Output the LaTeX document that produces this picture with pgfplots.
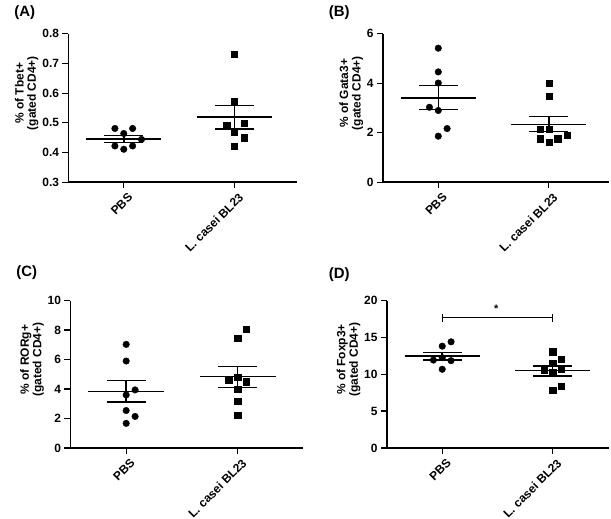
\documentclass[border=0pt]{standalone}
\usepackage{pgfplots}
\pgfplotsset{compat=1.18}
\usepackage{fontspec}
\setmainfont{Liberation Sans}
\begin{document}
\pgfplotsset{
  panel/.style={
    anchor=south west, scale only axis, xmin=-0.5,
    axis x line*=bottom, axis y line*=left,
    axis line style={-, line width=1.5pt},
    tick style={line width=1.3pt, black},
    tick align=outside, major tick length=6pt,
    xtick={0,1}, xticklabels={PBS, L. casei BL23},
    xticklabel style={rotate=45, anchor=north east, font=\bfseries\fontsize{12}{14}\selectfont, xshift=3pt, yshift=-2pt},
    yticklabel style={font=\bfseries\fontsize{12}{14}\selectfont},
    /pgf/number format/assume math mode=true,
    ylabel style={align=center, font=\bfseries\fontsize{12}{12.5}\selectfont, at={(ticklabel cs:0.6)}, yshift=-3pt},
    clip=false,
  },
  circ/.style={only marks, mark=*, mark size=3.3pt, black},
  sq/.style={only marks, mark=square*, mark size=3.1pt, black},
  ml/.style={no marks, line width=1.5pt, black},
}
\begin{tikzpicture}[x=1pt,y=1pt]
\useasboundingbox (0,0) rectangle (611,521);
\node[font=\bfseries\fontsize{15}{15}\selectfont] at (22,508) {(A)};
\node[font=\bfseries\fontsize{15}{15}\selectfont] at (338,508) {(B)};
\node[font=\bfseries\fontsize{15}{15}\selectfont] at (24,247) {(C)};
\node[font=\bfseries\fontsize{15}{15}\selectfont] at (338,245) {(D)};
% Panel A
\begin{axis}[panel, at={(66pt,338pt)}, width=230pt, height=149pt, xmax=1.57,
  ymin=0.3, ymax=0.8, ytick={0.3,0.4,0.5,0.6,0.7,0.8},
  yticklabel style={/pgf/number format/fixed, /pgf/number format/precision=1, /pgf/number format/fixed zerofill},
  ylabel={\% of Tbet+\\(gated CD4+)}]
\addplot[circ] coordinates {(-0.08,0.481) (0.08,0.481) (0,0.464) (0.16,0.444) (-0.08,0.422) (0.08,0.422) (0,0.411)};
\addplot[sq] coordinates {(1,0.73) (1,0.571) (0.93,0.493) (1.09,0.500) (1,0.469) (1.09,0.450) (1,0.420)};
\addplot[ml] coordinates {(-0.34,0.445) (0.34,0.445)};
\addplot[ml] coordinates {(-0.175,0.457) (0.175,0.457)};
\addplot[ml] coordinates {(-0.175,0.433) (0.175,0.433)};
\addplot[ml] coordinates {(0,0.433) (0,0.457)};
\addplot[ml] coordinates {(0.66,0.519) (1.34,0.519)};
\addplot[ml] coordinates {(0.825,0.559) (1.175,0.559)};
\addplot[ml] coordinates {(0.825,0.480) (1.175,0.480)};
\addplot[ml] coordinates {(1,0.480) (1,0.559)};
\end{axis}
% Panel B
\begin{axis}[panel, at={(382pt,338pt)}, width=227pt, height=149pt, xmax=1.545,
  ymin=0, ymax=6, ytick={0,2,4,6},
  ylabel={\% of Gata3+\\(gated CD4+)}]
\addplot[circ] coordinates {(0,5.42) (0,4.46) (0,4.01) (-0.08,3.03) (0,2.90) (0.08,2.17) (0,1.86)};
\addplot[sq] coordinates {(1,4.01) (1,3.48) (0.92,2.13) (1,2.13) (1.17,1.91) (0.92,1.76) (1.08,1.76) (1,1.62)};
\addplot[ml] coordinates {(-0.34,3.41) (0.34,3.41)};
\addplot[ml] coordinates {(-0.175,3.91) (0.175,3.91)};
\addplot[ml] coordinates {(-0.175,2.94) (0.175,2.94)};
\addplot[ml] coordinates {(0,2.94) (0,3.91)};
\addplot[ml] coordinates {(0.66,2.34) (1.34,2.34)};
\addplot[ml] coordinates {(0.825,2.65) (1.175,2.65)};
\addplot[ml] coordinates {(0.825,2.04) (1.175,2.04)};
\addplot[ml] coordinates {(1,2.04) (1,2.65)};
\end{axis}
% Panel C
\begin{axis}[panel, at={(68pt,71pt)}, width=234pt, height=148pt, xmax=1.59,
  ymin=0, ymax=10, ytick={0,2,4,6,8,10},
  ylabel={\% of RORg+\\(gated CD4+)}]
\addplot[circ] coordinates {(0,7.03) (0,5.90) (0.08,3.94) (0,3.60) (0,2.54) (0.08,2.14) (0,1.67)};
\addplot[sq] coordinates {(1.08,8.04) (1,7.43) (0.92,4.62) (1,4.80) (1.08,4.50) (1,4.01) (1,3.15) (1,2.20)};
\addplot[ml] coordinates {(-0.34,3.83) (0.34,3.83)};
\addplot[ml] coordinates {(-0.175,4.59) (0.175,4.59)};
\addplot[ml] coordinates {(-0.175,3.11) (0.175,3.11)};
\addplot[ml] coordinates {(0,3.11) (0,4.59)};
\addplot[ml] coordinates {(0.66,4.84) (1.34,4.84)};
\addplot[ml] coordinates {(0.825,5.52) (1.175,5.52)};
\addplot[ml] coordinates {(0.825,4.12) (1.175,4.12)};
\addplot[ml] coordinates {(1,4.12) (1,5.52)};
\end{axis}
% Panel D
\begin{axis}[panel, at={(386pt,71pt)}, width=223pt, height=148pt, xmax=1.51,
  ymin=0, ymax=20, ytick={0,5,10,15,20},
  ylabel={\% of Foxp3+\\(gated CD4+)}]
\addplot[circ] coordinates {(0.08,14.41) (0,13.82) (-0.08,11.93) (0,12.25) (0.08,11.85) (0,10.68)};
\addplot[sq] coordinates {(1,13.06) (1.08,12.03) (1,11.49) (1.08,10.68) (0.92,10.50) (1,10.27) (1.08,8.34) (1,7.88)};
\addplot[ml] coordinates {(-0.34,12.48) (0.34,12.48)};
\addplot[ml] coordinates {(-0.175,12.93) (0.175,12.93)};
\addplot[ml] coordinates {(-0.175,11.93) (0.175,11.93)};
\addplot[ml] coordinates {(0,11.93) (0,12.93)};
\addplot[ml] coordinates {(0.66,10.50) (1.34,10.50)};
\addplot[ml] coordinates {(0.825,11.12) (1.175,11.12)};
\addplot[ml] coordinates {(0.825,9.77) (1.175,9.77)};
\addplot[ml] coordinates {(1,9.77) (1,11.12)};
\addplot[no marks, line width=0.8pt, black] coordinates {(0,17.66) (1,17.66)};
\addplot[no marks, line width=0.8pt, black] coordinates {(0,17.15) (0,18.15)};
\addplot[no marks, line width=0.8pt, black] coordinates {(1,17.15) (1,18.15)};
\node[font=\bfseries\fontsize{11}{11}\selectfont] at (axis cs:0.49,18.9) {*};
\end{axis}
\end{tikzpicture}
\end{document}
